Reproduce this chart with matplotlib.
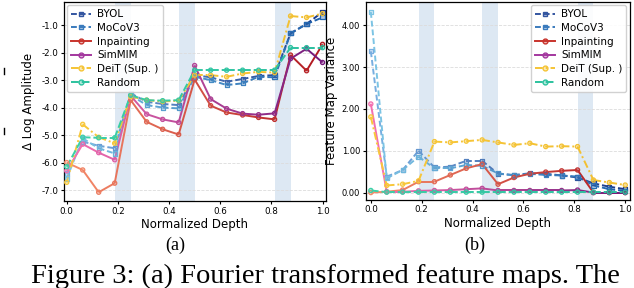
import numpy as np
import matplotlib
matplotlib.use("Agg")
import matplotlib.pyplot as plt
from matplotlib.collections import LineCollection
from matplotlib.colors import LinearSegmentedColormap, to_rgba
from matplotlib.lines import Line2D

depth = np.linspace(0, 1, 17)
shaded = [(0.1875, 0.25), (0.4375, 0.5), (0.8125, 0.875)]

names = ["BYOL", "MoCoV3", "Inpainting", "SimMIM", "DeiT (Sup. )", "Random"]

amp_byol = [-6.4, -5.24, -5.39, -5.48, -3.48, -3.79, -3.87, -3.91, -2.82, -2.9, -3.06, -2.96, -2.85, -2.82, -1.30, -0.96, -0.52]
amp_moco = [-6.58, -5.12, -5.48, -5.67, -3.55, -3.91, -4.0, -4.03, -2.88, -3.0, -3.18, -3.12, -2.88, -2.9, -1.30, -0.96, -0.72]
amp_inpaint = [-6.0, -6.27, -7.08, -6.75, -3.73, -4.52, -4.79, -4.98, -2.98, -3.93, -4.18, -4.27, -4.36, -4.43, -2.09, -2.66, -1.70]
amp_simmim = [-6.3, -5.33, -5.64, -5.9, -3.57, -4.24, -4.43, -4.54, -2.47, -3.69, -4.04, -4.22, -4.26, -4.21, -2.22, -1.86, -2.36]
amp_deit = [-6.72, -4.61, -5.08, -5.30, -3.6, -3.73, -3.78, -3.75, -2.82, -2.82, -2.88, -2.76, -2.70, -2.73, -0.67, -0.72, -0.58]
amp_random = [-6.15, -5.08, -5.10, -5.10, -3.55, -3.73, -3.75, -3.73, -2.64, -2.64, -2.64, -2.64, -2.64, -2.64, -1.82, -1.82, -1.82]

var_byol = [3.38, 0.38, 0.54, 1.0, 0.6, 0.62, 0.76, 0.76, 0.45, 0.42, 0.46, 0.45, 0.41, 0.36, 0.22, 0.14, 0.08]
var_moco = [4.32, 0.34, 0.54, 0.86, 0.58, 0.58, 0.66, 0.64, 0.46, 0.41, 0.45, 0.42, 0.41, 0.38, 0.17, 0.08, 0.04]
var_inpaint = [0.0, 0.02, 0.06, 0.26, 0.26, 0.42, 0.58, 0.68, 0.2, 0.36, 0.45, 0.49, 0.52, 0.54, 0.0, 0.0, 0.0]
var_simmim = [2.12, 0.02, 0.02, 0.04, 0.05, 0.06, 0.08, 0.1, 0.05, 0.05, 0.05, 0.05, 0.05, 0.06, 0.0, 0.0, 0.0]
var_deit = [1.81, 0.17, 0.2, 0.28, 1.22, 1.2, 1.23, 1.26, 1.2, 1.14, 1.18, 1.1, 1.11, 1.1, 0.3, 0.24, 0.18]
var_random = [0.05, 0.01, 0.01, 0.01, 0.01, 0.01, 0.01, 0.01, 0.01, 0.01, 0.01, 0.01, 0.01, 0.01, 0.01, 0.01, 0.01]

amp_ticks = [-7.0, -6.0, -5.0, -4.0, -3.0, -2.0, -1.0]
var_ticks = [0.0, 1.0, 2.0, 3.0, 4.0]
x_ticks = [0.0, 0.2, 0.4, 0.6, 0.8, 1.0]

styles = {
    "BYOL": dict(c0="#78aee0", c1="#1b3a8a", ls=(0, (3, 1.5)), marker="s", legend="#3355a0"),
    "MoCoV3": dict(c0="#7cc4e4", c1="#1f62ad", ls=(0, (3, 1.5)), marker="s", legend="#3a7bbd"),
    "Inpainting": dict(c0="#f58b6a", c1="#b31b22", ls="-", marker="o", legend="#c8332c"),
    "SimMIM": dict(c0="#f36fb0", c1="#761b7d", ls="-", marker="o", legend="#a3379e"),
    "DeiT (Sup. )": dict(c0="#f8c83a", c1="#f2bf30", ls=(0, (4, 1.5, 1, 1.5)), marker="o", legend="#f5c435"),
    "Random": dict(c0="#3bd0a8", c1="#2bbf9f", ls=(0, (4, 1.5)), marker="o", legend="#2cc29e"),
}

plt.rcParams["font.family"] = "DejaVu Sans"
fig = plt.figure(figsize=(6.34, 2.88), dpi=100)
ax1 = fig.add_axes([0.101, 0.302, 0.413, 0.691])
ax2 = fig.add_axes([0.577, 0.306, 0.416, 0.687])


def draw(ax, series):
    for name, y in series:
        st = styles[name]
        cmap = LinearSegmentedColormap.from_list(name, [st["c0"], st["c1"]])
        y = np.asarray(y)
        pts = np.column_stack([depth, y]).reshape(-1, 1, 2)
        segs = np.concatenate([pts[:-1], pts[1:]], axis=1)
        cols = [cmap(i / (len(segs) - 1)) for i in range(len(segs))]
        lc = LineCollection(segs, colors=cols, linewidths=1.4, linestyles=st["ls"], zorder=3)
        ax.add_collection(lc)
        pcols = [cmap(i / (len(depth) - 1)) for i in range(len(depth))]
        fcols = [(c[0], c[1], c[2], 0.35) for c in pcols]
        ax.scatter(depth, y, s=9, marker=st["marker"], facecolors=fcols,
                   edgecolors=pcols, linewidths=0.9, zorder=4)


def proxies():
    hs = []
    for name in names:
        st = styles[name]
        c = st["legend"]
        hs.append(Line2D([], [], color=c, ls=st["ls"], lw=1.4, marker=st["marker"],
                         markersize=3.5, markerfacecolor=to_rgba(c, 0.35), markeredgecolor=c))
    return hs


for ax in (ax1, ax2):
    for a, b in shaded:
        ax.axvspan(a, b, color="#dde8f3", lw=0, zorder=0)
    ax.grid(axis="y", ls="--", color="#dcdcdc", lw=0.6, zorder=1)
    ax.set_xticks(x_ticks)
    ax.set_xticklabels([f"{t:.1f}" for t in x_ticks], fontsize=6.3)
    ax.tick_params(length=2.5, width=0.8, pad=1.5)
    ax.set_xlabel("Normalized Depth", fontsize=8.5, labelpad=2)
    for s in ax.spines.values():
        s.set_linewidth(0.9)

leg_kw = dict(fontsize=7.5, handlelength=1.9, borderpad=0.4, labelspacing=0.35,
              handletextpad=0.6, borderaxespad=0.3, framealpha=0.9,
              edgecolor="#cccccc", fancybox=True)

draw(ax1, [("BYOL", amp_byol), ("MoCoV3", amp_moco), ("Inpainting", amp_inpaint),
           ("SimMIM", amp_simmim), ("DeiT (Sup. )", amp_deit), ("Random", amp_random)])
ax1.set_xlim(-0.0105, 1.013)
ax1.set_ylim(-7.4, -0.16)
ax1.set_yticks(amp_ticks)
ax1.set_yticklabels([f"{t:.1f}" for t in amp_ticks], fontsize=6.3)
ax1.set_ylabel("Δ Log Amplitude", fontsize=8.5)
ax1.yaxis.set_label_coords(-0.11, 0.5)
ax1.legend(proxies(), names, loc="upper left", **leg_kw)

draw(ax2, [("BYOL", var_byol), ("MoCoV3", var_moco), ("Inpainting", var_inpaint),
           ("SimMIM", var_simmim), ("DeiT (Sup. )", var_deit), ("Random", var_random)])
ax2.set_xlim(-0.0197, 1.017)
ax2.set_ylim(-0.175, 4.56)
ax2.set_yticks(var_ticks)
ax2.set_yticklabels([f"{t:.2f}" for t in var_ticks], fontsize=6)
ax2.set_ylabel("Feature Map Variance", fontsize=8.5)
ax2.yaxis.set_label_coords(-0.105, 0.5)
ax2.legend(proxies(), names, loc="upper right", **leg_kw)

serif = ["Liberation Serif", "DejaVu Serif"]
fig.text(175 / 634, 1 - 245 / 288, "(a)", fontsize=13, family=serif, ha="center", va="center")
fig.text(475 / 634, 1 - 245 / 288, "(b)", fontsize=13, family=serif, ha="center", va="center")
fig.text(31 / 634, 1 - 283 / 288, "Figure 3: (a) Fourier transformed feature maps. The",
         fontsize=20.5, family=serif, ha="left", va="baseline")

# fragments of neighbouring text at the left edge
fig.add_artist(Line2D([4 / 634, 4 / 634], [1 - 68 / 288, 1 - 74 / 288], color="black", lw=1.0))
fig.add_artist(Line2D([4 / 634, 4 / 634], [1 - 128 / 288, 1 - 134 / 288], color="black", lw=1.0))

fig.savefig("out.png", dpi=100)
